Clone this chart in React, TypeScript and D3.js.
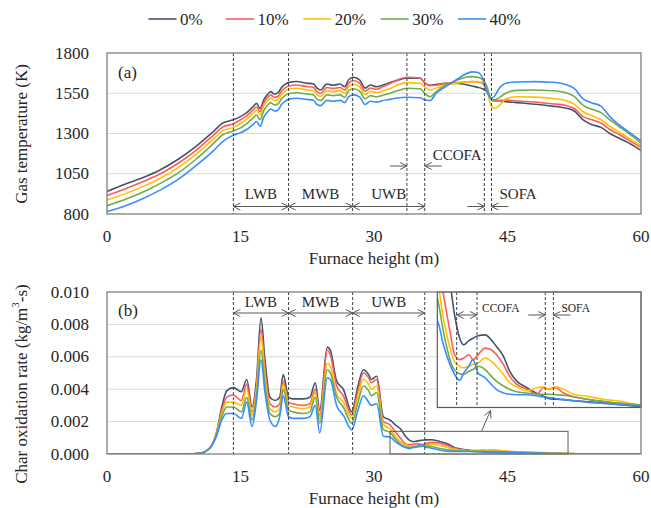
import { useEffect, useRef } from "react";
import * as d3 from "d3";

const W = 651;
const H = 508;
const FONT = "'Liberation Serif', 'Times New Roman', serif";

const seriesNames = ["0%", "10%", "20%", "30%", "40%"];
const colors = ["#44546A", "#FF5B5B", "#FFC000", "#70AD47", "#3A8DFF"];

// ---- (a) gas temperature, K ----
const heightA = [
  0, 2, 4, 6, 8, 10, 12, 13, 14.2, 15, 15.7, 16.4, 16.8, 17.2, 17.6, 18, 18.4, 18.8, 19.2, 19.6, 20, 20.4,
  21.3, 22.4, 23.2, 23.6, 24, 24.7, 25.4, 26.2, 26.7, 27.2, 27.7, 28.4, 29, 29.6, 30.3, 31, 31.8, 32.6,
  33.7, 35.2, 35.7, 36.3, 37, 38, 39, 40, 41, 41.6, 42.2, 42.7, 43.1, 43.5, 44, 44.8, 46, 48, 50, 51.5,
  52.5, 53.5, 54.5, 55.5, 56.5, 57.5, 58.5, 60,
];
const temp0 = [
  940, 985, 1025, 1075, 1140, 1220, 1315, 1365, 1385, 1405, 1430, 1466, 1487, 1455, 1508, 1540, 1560, 1545, 1552, 1585, 1605, 1616,
  1623, 1613, 1607, 1582, 1570, 1607, 1600, 1607, 1590, 1637, 1649, 1632, 1582, 1601, 1590, 1601, 1616, 1630,
  1643, 1643, 1613, 1600, 1605, 1612, 1612, 1607, 1595, 1588, 1578, 1560, 1519, 1508, 1503, 1498, 1492, 1482, 1470, 1458,
  1440, 1385, 1355, 1338, 1300, 1272, 1245, 1195,
];
const temp10 = [
  915, 955, 1000, 1050, 1115, 1195, 1292, 1340, 1360, 1385, 1410, 1445, 1465, 1435, 1488, 1520, 1540, 1525, 1530, 1563, 1583, 1595,
  1601, 1592, 1586, 1560, 1550, 1586, 1580, 1586, 1570, 1615, 1628, 1612, 1562, 1582, 1575, 1590, 1610, 1632,
  1649, 1645, 1615, 1597, 1600, 1610, 1615, 1620, 1622, 1620, 1612, 1560, 1520, 1500, 1505, 1508, 1502, 1496, 1485, 1475,
  1455, 1405, 1385, 1365, 1325, 1295, 1262, 1214,
];
const temp20 = [
  887, 925, 970, 1022, 1088, 1170, 1268, 1318, 1338, 1362, 1390, 1425, 1445, 1415, 1468, 1500, 1520, 1505, 1510, 1543, 1563, 1575,
  1581, 1572, 1566, 1540, 1530, 1566, 1560, 1566, 1550, 1595, 1606, 1590, 1542, 1562, 1555, 1565, 1580, 1600,
  1616, 1612, 1590, 1570, 1582, 1600, 1610, 1618, 1622, 1622, 1618, 1575, 1480, 1457, 1470, 1515, 1528, 1526, 1518, 1505,
  1482, 1435, 1410, 1385, 1345, 1310, 1275, 1224,
];
const temp30 = [
  852, 890, 935, 990, 1055, 1140, 1240, 1292, 1315, 1335, 1362, 1395, 1415, 1385, 1440, 1472, 1492, 1478, 1483, 1515, 1535, 1547,
  1553, 1545, 1540, 1513, 1505, 1540, 1535, 1540, 1525, 1568, 1578, 1562, 1515, 1535, 1528, 1538, 1550, 1565,
  1581, 1578, 1550, 1528, 1560, 1598, 1625, 1645, 1653, 1650, 1635, 1590, 1520, 1505, 1520, 1550, 1568, 1570, 1566, 1555,
  1530, 1475, 1450, 1430, 1385, 1345, 1305, 1240,
];
const temp40 = [
  815, 850, 895, 950, 1015, 1100, 1195, 1250, 1290, 1305, 1325, 1355, 1375, 1345, 1400, 1432, 1452, 1440, 1445, 1480, 1500, 1512,
  1519, 1512, 1506, 1480, 1473, 1506, 1500, 1506, 1492, 1530, 1540, 1526, 1480, 1500, 1495, 1505, 1512, 1520,
  1525, 1522, 1508, 1505, 1550, 1590, 1625, 1660, 1683, 1680, 1645, 1560, 1520, 1530, 1575, 1612, 1620, 1622, 1618, 1605,
  1580, 1515, 1490, 1470, 1405, 1355, 1315, 1255,
];
const tempTicks = [800, 1050, 1300, 1550, 1800];

// ---- (b) char oxidation rate, kg/m3-s ----
const heightB = [
  0, 9, 10.5, 11.6, 12.3, 12.9, 13.45, 14.2, 15.1, 15.7, 16.3, 16.8, 17.3, 17.75, 18.3, 18.9, 19.4, 19.8, 20.4, 20.9,
  22.1, 22.8, 23.4, 23.9, 24.75, 25.1, 25.8, 26.55, 27.5, 28.2, 28.8, 29.4, 29.7, 30.3, 31.05, 31.8, 32.4, 33.05,
  33.5, 34, 34.4, 34.9, 35.3, 35.8, 36.5, 37.1, 37.6, 38.3, 38.9, 39.6, 40.6, 41.6, 42.2, 42.7, 43.4, 44.2, 45.2,
  46.5, 48.1, 49.8, 51.7, 53, 60,
];
const rate0 = [
  0, 0, 0.00005, 0.0004, 0.0013, 0.0029, 0.0039, 0.0041, 0.00385, 0.0046, 0.0029, 0.0046, 0.0084, 0.0058, 0.0035, 0.0033, 0.0035, 0.0049, 0.0035, 0.0034,
  0.0034, 0.0035, 0.0044, 0.0027, 0.0066, 0.0064, 0.0045, 0.004, 0.0026, 0.0042, 0.0052, 0.0049, 0.0046, 0.0048, 0.0023, 0.0021, 0.0018, 0.0015,
  0.00112, 0.00084, 0.00076, 0.00081, 0.00084, 0.00087, 0.00088, 0.00082, 0.00074, 0.00062, 0.00044, 0.00032, 0.00024, 0.00017, 0.00014, 0.00011, 0.0001, 0.000095, 0.000082,
  0.00007, 0.000055, 0.000035, 0.000015, 0.00001, 0.000005,
];
const rate10 = [
  0, 0, 0.00005, 0.0004, 0.0013, 0.0027, 0.0035, 0.00364, 0.0033, 0.0043, 0.0026, 0.0042, 0.0077, 0.0052, 0.0031, 0.0029, 0.0031, 0.0045, 0.0032, 0.0031,
  0.003, 0.0031, 0.004, 0.0024, 0.0064, 0.0061, 0.0042, 0.0036, 0.0024, 0.0039, 0.005, 0.0047, 0.0044, 0.0046, 0.002, 0.0018, 0.00137, 0.00092,
  0.00064, 0.00058, 0.0006, 0.00064, 0.00058, 0.00064, 0.00072, 0.0007, 0.00064, 0.00052, 0.00038, 0.00028, 0.00022, 0.00016, 0.00024, 0.00022, 0.00024, 0.000175, 0.00013,
  0.0001, 0.00007, 0.00005, 0.00003, 0.00001, 0.000005,
];
const rate20 = [
  0, 0, 0.00005, 0.0004, 0.0012, 0.0025, 0.0032, 0.0032, 0.003, 0.004, 0.0024, 0.004, 0.0072, 0.0048, 0.0028, 0.0026, 0.0028, 0.0043, 0.003, 0.0029,
  0.0028, 0.0029, 0.0038, 0.0022, 0.0056, 0.0054, 0.0037, 0.0032, 0.0022, 0.0036, 0.0046, 0.0043, 0.004, 0.0042, 0.0018, 0.00155, 0.00108, 0.00072,
  0.00055, 0.0005, 0.00048, 0.0005, 0.00052, 0.00054, 0.0006, 0.00056, 0.0005, 0.0004, 0.0003, 0.00025, 0.0002, 0.00024, 0.00025, 0.00022, 0.00025, 0.00022, 0.00016,
  0.000135, 0.0001, 0.000075, 0.000027, 0.00001, 0.000005,
];
const rate30 = [
  0, 0, 0.00005, 0.0004, 0.0012, 0.0023, 0.0029, 0.0029, 0.0026, 0.0035, 0.0021, 0.0036, 0.0064, 0.0043, 0.0025, 0.0023, 0.0025, 0.004, 0.0027, 0.0026,
  0.0025, 0.0026, 0.0035, 0.0019, 0.0052, 0.005, 0.0035, 0.0029, 0.0019, 0.0032, 0.0042, 0.0039, 0.0036, 0.0038, 0.0015, 0.00133, 0.00092, 0.00058,
  0.00045, 0.00041, 0.0004, 0.00044, 0.00046, 0.0005, 0.00046, 0.00038, 0.00032, 0.00026, 0.00022, 0.00019, 0.000175, 0.00016, 0.00016, 0.00016, 0.000155, 0.000148, 0.00013,
  0.0001, 0.000075, 0.00005, 0.00003, 0.00001, 0.000005,
];
const rate40 = [
  0, 0, 0.00005, 0.0004, 0.0011, 0.0021, 0.0025, 0.0025, 0.0022, 0.0032, 0.0017, 0.0033, 0.0058, 0.0038, 0.0021, 0.0017, 0.0023, 0.0036, 0.0023, 0.0022,
  0.0022, 0.0023, 0.003, 0.0013, 0.0047, 0.0046, 0.003, 0.0024, 0.0015, 0.0027, 0.0036, 0.0032, 0.003, 0.0031, 0.0011, 0.00105, 0.00076, 0.00052,
  0.0004, 0.00033, 0.00042, 0.0005, 0.00058, 0.00042, 0.00036, 0.00028, 0.00022, 0.000175, 0.00016, 0.000155, 0.000155, 0.00014, 0.00013, 0.00012, 0.00011, 0.000095, 0.000082,
  0.000065, 0.00005, 0.000035, 0.00002, 0.00001, 0.000005,
];
const rateTicks = [0, 0.002, 0.004, 0.006, 0.008, 0.01];

const heightTicks = [0, 15, 30, 45, 60];

// burner zones and over-fire air positions (m)
const burnerEdges = [14.2, 20.4, 27.6, 35.7];
const burnerNames = ["LWB", "MWB", "UWB"];
const ccofa = [33.7, 35.7];
const sofa = [42.4, 43.2];
const zoomWindow = [31.8, 51.8];
const zoomRateMax = 0.0014;

const tempSeries = [temp0, temp10, temp20, temp30, temp40];
const rateSeries = [rate0, rate10, rate20, rate30, rate40];

function App() {
  const ref = useRef<SVGSVGElement>(null);

  useEffect(() => {
    const svg = d3.select(ref.current);
    svg.selectAll("*").remove();

    const left = 107, right = 641;
    const xA = d3.scaleLinear().domain([0, 60]).range([left, right]);
    const yA = d3.scaleLinear().domain([800, 1800]).range([214, 53]);
    const xB = d3.scaleLinear().domain([0, 60]).range([left, right]);
    const yB = d3.scaleLinear().domain([0, 0.01]).range([454, 292]);
    const xI = d3.scaleLinear().domain(zoomWindow).range([437.3, right]);
    const yI = d3.scaleLinear().domain([0, zoomRateMax]).range([407.5, 292]);

    const defs = svg.append("defs");
    const clip = (id: string, x0: number, y0: number, x1: number, y1: number) =>
      defs.append("clipPath").attr("id", id).append("rect")
        .attr("x", x0).attr("y", y0).attr("width", x1 - x0).attr("height", y1 - y0);
    clip("clipA", left, 53, right, 214);
    clip("clipB", left, 292, right, 454);
    clip("clipI", 437.3, 292, right, 407.5);

    const arrowCol = "#595959";
    // open chevron head at (x,y), pointing along angle
    function head(g: any, x: number, y: number, ang: number) {
      const l = 7, w = 3.5;
      const c = Math.cos(ang), s = Math.sin(ang);
      const p1 = [x - l * c + w * s, y - l * s - w * c];
      const p2 = [x - l * c - w * s, y - l * s + w * c];
      g.append("path")
        .attr("d", `M${p1[0]},${p1[1]}L${x},${y}L${p2[0]},${p2[1]}`)
        .attr("fill", "none").attr("stroke", arrowCol).attr("stroke-width", 1);
    }
    function arrow(g: any, x0: number, y0: number, x1: number, y1: number, both = false) {
      g.append("line").attr("x1", x0).attr("y1", y0).attr("x2", x1).attr("y2", y1)
        .attr("stroke", arrowCol).attr("stroke-width", 1);
      const ang = Math.atan2(y1 - y0, x1 - x0);
      head(g, x1, y1, ang);
      if (both) head(g, x0, y0, ang + Math.PI);
    }
    function dashed(g: any, x: number, y0: number, y1: number) {
      g.append("line").attr("x1", x).attr("x2", x).attr("y1", y0).attr("y2", y1)
        .attr("stroke", "#404040").attr("stroke-width", 1).attr("stroke-dasharray", "3,2");
    }
    function label(g: any, x: number, y: number, t: string, size: number, anchor = "middle") {
      return g.append("text").attr("x", x).attr("y", y).attr("text-anchor", anchor)
        .attr("dominant-baseline", "central").attr("font-family", FONT)
        .attr("font-size", size).attr("fill", "#262626").text(t);
    }

    function frame(xs: any, ys: any, ticks: number[], fmt: (d: number) => string, y0: number, y1: number) {
      const g = svg.append("g");
      g.selectAll(".grid").data(ticks.slice(1, -1)).enter().append("line")
        .attr("x1", left).attr("x2", right)
        .attr("y1", (d: number) => ys(d)).attr("y2", (d: number) => ys(d))
        .attr("stroke", "#d9d9d9").attr("stroke-width", 1);
      g.selectAll(".yt").data(ticks).enter().append("text")
        .attr("x", 89).attr("y", (d: number) => ys(d)).attr("text-anchor", "end")
        .attr("dominant-baseline", "central").attr("font-family", FONT).attr("font-size", 17)
        .attr("fill", "#262626").text(fmt);
      g.selectAll(".xt").data(heightTicks).enter().append("text")
        .attr("x", (d: number) => xs(d)).attr("y", y1 + 22).attr("text-anchor", "middle")
        .attr("dominant-baseline", "central").attr("font-family", FONT).attr("font-size", 17)
        .attr("fill", "#262626").text((d: number) => String(d));
      label(g, (left + right) / 2, y1 + 44, "Furnace height (m)", 17);
      return g;
    }

    function lines(g: any, xs: any, ys: any, heights: number[], series: number[][], clipId: string) {
      const line = d3.line<number>()
        .x((_, i) => xs(heights[i]))
        .y((d) => ys(d))
        .curve(d3.curveMonotoneX);
      g.append("g").attr("clip-path", `url(#${clipId})`)
        .selectAll("path").data(series).enter().append("path")
        .attr("d", (d: number[]) => line(d))
        .attr("fill", "none")
        .attr("stroke", (_: any, i: number) => colors[i])
        .attr("stroke-width", 1.6)
        .attr("stroke-linejoin", "round");
    }

    // ---------- panel (a) ----------
    const gA = frame(xA, yA, tempTicks, (d) => String(d), 53, 214);
    lines(gA, xA, yA, heightA, tempSeries, "clipA");
    [...burnerEdges, ccofa[0], ...sofa].forEach((h) => dashed(gA, xA(h), 53, 214));
    for (let i = 0; i < 3; i++) {
      const x0 = xA(burnerEdges[i]), x1 = xA(burnerEdges[i + 1]);
      arrow(gA, x0, 206.5, x1, 206.5, true);
      label(gA, (x0 + x1) / 2, 194, burnerNames[i], 15);
    }
    arrow(gA, xA(ccofa[0]) - 17, 166, xA(ccofa[0]), 166);
    arrow(gA, xA(ccofa[1]) + 17, 166, xA(ccofa[1]), 166);
    label(gA, xA(ccofa[1]) + 8, 155, "CCOFA", 15, "start");
    arrow(gA, xA(sofa[0]) - 17, 206.5, xA(sofa[0]), 206.5);
    arrow(gA, xA(sofa[1]) + 17, 206.5, xA(sofa[1]), 206.5);
    label(gA, xA(sofa[1]) + 8, 194, "SOFA", 15, "start");
    label(gA, 118, 72, "(a)", 17, "start");
    gA.append("rect").attr("x", left).attr("y", 53).attr("width", right - left).attr("height", 161)
      .attr("fill", "none").attr("stroke", "#7f7f7f").attr("stroke-width", 1.3);
    gA.append("text").attr("transform", "translate(21,134) rotate(-90)")
      .attr("text-anchor", "middle").attr("dominant-baseline", "central")
      .attr("font-family", FONT).attr("font-size", 17).attr("fill", "#262626")
      .text("Gas temperature (K)");

    // ---------- panel (b) ----------
    const gB = frame(xB, yB, rateTicks, (d) => d.toFixed(3), 292, 454);
    lines(gB, xB, yB, heightB, rateSeries, "clipB");
    burnerEdges.forEach((h) => dashed(gB, xB(h), 292, 454));
    for (let i = 0; i < 3; i++) {
      const x0 = xB(burnerEdges[i]), x1 = xB(burnerEdges[i + 1]);
      arrow(gB, x0, 313, x1, 313, true);
      label(gB, (x0 + x1) / 2, 301.5, burnerNames[i], 15);
    }
    label(gB, 118, 310, "(b)", 17, "start");
    // zoom window marker
    gB.append("rect").attr("x", xB(zoomWindow[0])).attr("y", yB(zoomRateMax))
      .attr("width", xB(zoomWindow[1]) - xB(zoomWindow[0])).attr("height", yB(0) - yB(zoomRateMax))
      .attr("fill", "none").attr("stroke", "#595959").attr("stroke-width", 1);
    arrow(gB, 481.5, yB(zoomRateMax), 490.5, 410.5);

    // inset
    const gI = gB.append("g");
    gI.append("rect").attr("x", 437.3).attr("y", 292).attr("width", right - 437.3).attr("height", 115.5)
      .attr("fill", "white");
    lines(gI, xI, yI, heightB, rateSeries, "clipI");
    [...ccofa, ...sofa].forEach((h) => dashed(gI, xI(h), 292, 407.5));
    arrow(gI, xI(ccofa[0]), 315, xI(ccofa[1]), 315, true);
    label(gI, xI(ccofa[1]) + 5, 308, "CCOFA", 11.5, "start");
    arrow(gI, xI(sofa[0]) - 17, 315, xI(sofa[0]), 315);
    arrow(gI, xI(sofa[1]) + 17, 315, xI(sofa[1]), 315);
    label(gI, xI(sofa[1]) + 8, 308, "SOFA", 11.5, "start");
    gI.append("rect").attr("x", 437.3).attr("y", 292).attr("width", right - 437.3).attr("height", 115.5)
      .attr("fill", "none").attr("stroke", "#595959").attr("stroke-width", 1.2);

    gB.append("rect").attr("x", left).attr("y", 292).attr("width", right - left).attr("height", 162)
      .attr("fill", "none").attr("stroke", "#7f7f7f").attr("stroke-width", 1.3);
    const yt = gB.append("text").attr("transform", "translate(21,384) rotate(-90)")
      .attr("text-anchor", "middle").attr("dominant-baseline", "central")
      .attr("font-family", FONT).attr("font-size", 17).attr("fill", "#262626");
    yt.append("tspan").text("Char oxidation rate (kg/m");
    yt.append("tspan").attr("font-size", 11).attr("dy", -6).text("3");
    yt.append("tspan").attr("dy", 6).text("-s)");

    // ---------- legend ----------
    const gL = svg.append("g");
    seriesNames.forEach((name, i) => {
      const x = 148.5 + i * 77.4;
      gL.append("line").attr("x1", x).attr("x2", x + 28).attr("y1", 19).attr("y2", 19)
        .attr("stroke", colors[i]).attr("stroke-width", 1.6);
      label(gL, x + 31.5, 19, name, 17, "start");
    });
  }, []);

  return (
    <svg
      ref={ref}
      width={W}
      height={H}
      style={{ position: "absolute", left: 0, top: 0, background: "white" }}
    />
  );
}

export default App;
